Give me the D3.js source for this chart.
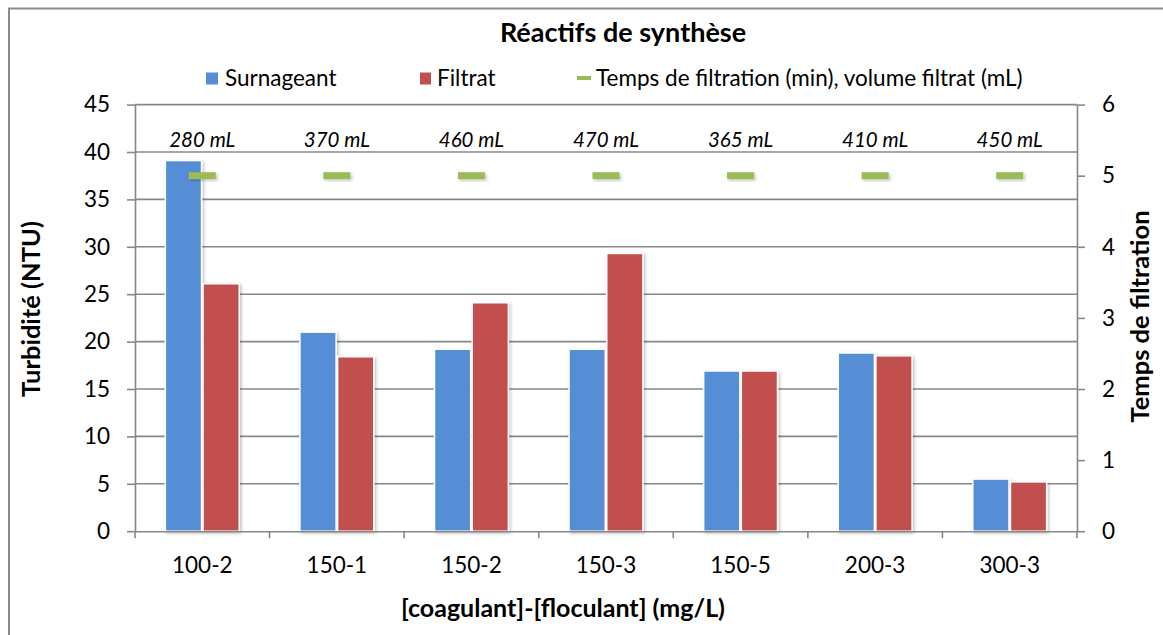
<!DOCTYPE html>
<html>
<head>
<meta charset="utf-8">
<script src="https://cdn.jsdelivr.net/npm/d3@7"></script>
<style>
  body { margin: 0; background: #fff; }
  text { font-family: Lato, "Open Sans", sans-serif; fill: #000; }
</style>
</head>
<body>
<svg id="chartSVG" width="1163" height="635"></svg>
<script>
// categories and series
const categories = ["100-2", "150-1", "150-2", "150-3", "150-5", "200-3", "300-3"];
const seriesNames = ["Surnageant", "Filtrat"];
const surnageant = [39.1, 21.0, 19.2, 19.2, 16.9, 18.8, 5.5];
const filtrat = [26.1, 18.4, 24.1, 29.3, 16.9, 18.5, 5.2];
const tempsFiltration = [5, 5, 5, 5, 5, 5, 5];
const volumeLabels = ["280 mL", "370 mL", "460 mL", "470 mL", "365 mL", "410 mL", "450 mL"];
const leftTicks = [0, 5, 10, 15, 20, 25, 30, 35, 40, 45];
const rightTicks = [0, 1, 2, 3, 4, 5, 6];

const colours = { "Surnageant": "#558ED5", "Filtrat": "#C0504D", line: "#9BBB59" };
const gridColour = "#878787";

// plot area
const plotLeft = 135, plotRight = 1077, plotTop = 104.6, plotBottom = 531.2;

var svg = d3.select("#chartSVG");

/* ---------- shadow filter ---------- */
var defs = svg.append("defs");
var shadow = defs.append("filter").attr("id", "shadow")
    .attr("x", "-30%").attr("y", "-30%").attr("width", "160%").attr("height", "160%");
shadow.append("feDropShadow")
    .attr("dx", 1.5).attr("dy", 1.5).attr("stdDeviation", 1.8)
    .attr("flood-color", "#000").attr("flood-opacity", 0.25);

/* ---------- frame ---------- */
svg.append("path")
    .attr("d", "M9,640 L9,8.5 L1170,8.5")
    .attr("fill", "none").attr("stroke", "#8c8c8c").attr("stroke-width", 2);

/* ---------- scales ---------- */
var x0 = d3.scaleBand().domain(categories).range([plotLeft, plotRight])
    .paddingInner(0.44).paddingOuter(0.22);
var x1 = d3.scaleBand().domain(seriesNames).range([0, x0.bandwidth()]);
var y = d3.scaleLinear().domain([0, 45]).range([plotBottom, plotTop]);
var yR = d3.scaleLinear().domain([0, 6]).range([plotBottom, plotTop]);

/* ---------- gridlines ---------- */
svg.append("g").selectAll("line")
    .data(leftTicks.filter(d => d > 0))
    .join("line")
    .attr("x1", plotLeft).attr("x2", plotRight)
    .attr("y1", d => y(d)).attr("y2", d => y(d))
    .attr("stroke", gridColour).attr("stroke-width", 1.6);

/* ---------- bars ---------- */
var table = categories.map((c, i) => ({ cat: c, values: [
    { name: "Surnageant", value: surnageant[i] },
    { name: "Filtrat", value: filtrat[i] }
]}));

svg.append("g").selectAll("g")
    .data(table)
    .join("g")
    .attr("transform", d => "translate(" + x0(d.cat) + ",0)")
    .selectAll("rect")
    .data(d => d.values)
    .join("rect")
    .attr("x", d => x1(d.name) + 0.75)
    .attr("width", x1.bandwidth() - 1.5)
    .attr("y", d => y(d.value))
    .attr("height", d => plotBottom - y(d.value))
    .attr("fill", d => colours[d.name])
    .attr("stroke", "#fff").attr("stroke-width", 1.5)
    .attr("filter", "url(#shadow)");

/* ---------- axes ---------- */
var axisLeft = d3.axisLeft(y).tickValues(leftTicks).tickSize(8).tickSizeOuter(0).tickPadding(17);
var gL = svg.append("g").attr("transform", "translate(" + plotLeft + ",0)").call(axisLeft);
var axisRight = d3.axisRight(yR).tickValues(rightTicks).tickFormat(d3.format("d"))
    .tickSize(8).tickSizeOuter(0).tickPadding(17);
var gR = svg.append("g").attr("transform", "translate(" + plotRight + ",0)").call(axisRight);
var axisBottom = d3.axisBottom(x0).tickSize(0).tickSizeOuter(0).tickPadding(26);
var gB = svg.append("g").attr("transform", "translate(0," + plotBottom + ")").call(axisBottom);

// category boundary ticks
svg.append("g").selectAll("line")
    .data(d3.range(categories.length + 1))
    .join("line")
    .attr("x1", i => plotLeft + i * x0.step()).attr("x2", i => plotLeft + i * x0.step())
    .attr("y1", plotBottom).attr("y2", plotBottom + 7)
    .attr("stroke", gridColour).attr("stroke-width", 1.6);

[gL, gR, gB].forEach(g => {
    g.selectAll(".domain").attr("stroke", gridColour).attr("stroke-width", 1.6);
    g.selectAll(".tick line").attr("stroke", gridColour).attr("stroke-width", 1.6);
    g.selectAll(".tick text").style("font-family", "Lato, sans-serif").style("font-size", "22.5px").attr("fill", "#000");
});

/* ---------- secondary series: dashes + volume labels ---------- */
var lineGroup = svg.append("g");
lineGroup.selectAll("rect")
    .data(tempsFiltration)
    .join("rect")
    .attr("x", (d, i) => x0(categories[i]) + x0.bandwidth() / 2 - 13.5)
    .attr("y", d => yR(d) - 3.5)
    .attr("width", 27).attr("height", 7)
    .attr("fill", colours.line)
    .attr("filter", "url(#shadow)");
lineGroup.selectAll("text")
    .data(volumeLabels)
    .join("text")
    .attr("x", (d, i) => x0(categories[i]) + x0.bandwidth() / 2)
    .attr("y", yR(tempsFiltration[0]) - 28.5)
    .attr("text-anchor", "middle")
    .style("font-size", "20.5px").style("font-style", "italic")
    .text(d => d);

/* ---------- title ---------- */
svg.append("text")
    .attr("x", 623).attr("y", 41.5)
    .attr("text-anchor", "middle")
    .style("font-size", "27px").style("font-weight", "bold")
    .text("Réactifs de synthèse");

/* ---------- legend ---------- */
var legend = svg.append("g");
legend.append("rect").attr("x", 206).attr("y", 72.5).attr("width", 12).attr("height", 12).attr("fill", colours["Surnageant"]);
legend.append("text").attr("x", 225).attr("y", 85.5).style("font-size", "22.5px").text("Surnageant");
legend.append("rect").attr("x", 420).attr("y", 72.5).attr("width", 11).attr("height", 12).attr("fill", colours["Filtrat"]);
legend.append("text").attr("x", 437).attr("y", 85.5).style("font-size", "22.5px").text("Filtrat");
legend.append("rect").attr("x", 577).attr("y", 76).attr("width", 14).attr("height", 4).attr("fill", colours.line);
legend.append("text").attr("x", 596).attr("y", 85.5).style("font-size", "22.5px").text("Temps de filtration (min), volume filtrat (mL)");

/* ---------- axis titles ---------- */
svg.append("text")
    .attr("text-anchor", "middle")
    .attr("transform", "translate(40,309) rotate(-90)")
    .style("font-size", "25.5px").style("font-weight", "bold")
    .text("Turbidité (NTU)");
svg.append("text")
    .attr("text-anchor", "middle")
    .attr("transform", "translate(1149,316.5) rotate(-90)")
    .style("font-size", "25.5px").style("font-weight", "bold")
    .text("Temps de filtration");
svg.append("text")
    .attr("x", 563).attr("y", 617)
    .attr("text-anchor", "middle")
    .style("font-size", "25px").style("font-weight", "bold")
    .text("[coagulant]-[floculant] (mg/L)");
</script>
</body>
</html>
